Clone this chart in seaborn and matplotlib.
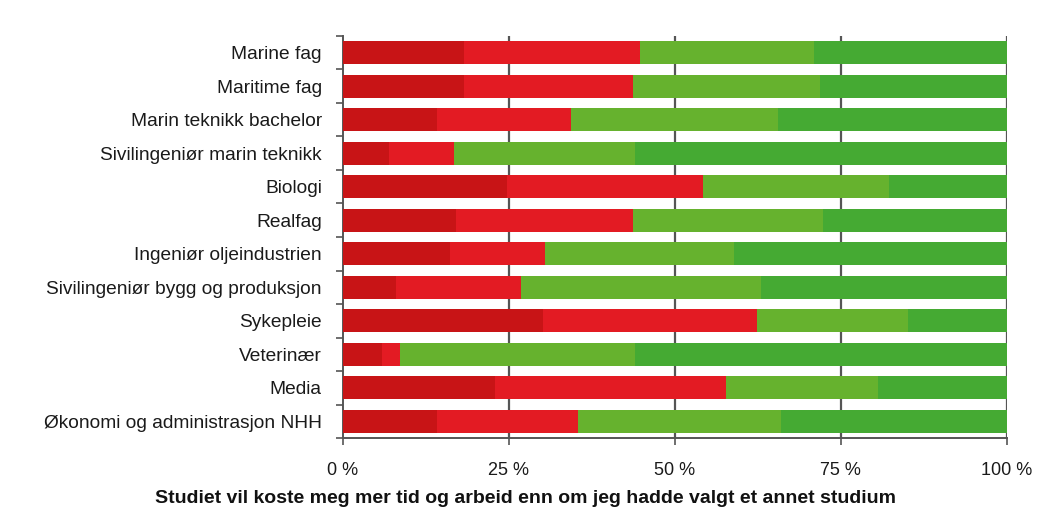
import pandas as pd
import matplotlib.pyplot as plt
import seaborn as sns

# Categories (top to bottom)
categories = ['Marine fag', 'Maritime fag', 'Marin teknikk bachelor',
              'Sivilingeniør marin teknikk', 'Biologi', 'Realfag',
              'Ingeniør oljeindustrien', 'Sivilingeniør bygg og produksjon',
              'Sykepleie', 'Veterinær', 'Media', 'Økonomi og administrasjon NHH']

# Share per answer group (percent)
helt_enig = [18.2, 18.2, 14.2, 7.0, 24.8, 17.1, 16.1, 8.1, 30.2, 5.9, 23.0, 14.2]
delvis_enig = [26.5, 25.5, 20.2, 9.8, 29.5, 26.6, 14.3, 18.7, 32.2, 2.7, 34.7, 21.2]
delvis_uenig = [26.3, 28.1, 31.2, 27.2, 28.0, 28.6, 28.5, 36.2, 22.7, 35.4, 22.9, 30.6]
helt_uenig = [29.0, 28.2, 34.4, 56.0, 17.7, 27.7, 41.1, 37.0, 14.9, 56.0, 19.4, 34.0]

colors = ['#C81416', '#E31B23', '#66B22E', '#45AA33']

df = pd.DataFrame({'kategori': categories, 'a': helt_enig, 'b': delvis_enig,
                   'c': delvis_uenig, 'd': helt_uenig})
# Cumulative ends for the stacked bars
df['s1'] = df['a']
df['s2'] = df['s1'] + df['b']
df['s3'] = df['s2'] + df['c']
df['s4'] = df['s3'] + df['d']

sns.set_style('white')
plt.rcParams['font.family'] = ['Liberation Sans', 'DejaVu Sans']

fig = plt.figure(figsize=(10.51, 5.13), dpi=100)
ax = fig.add_axes([0.326, 0.146, 0.632, 0.784])

# Draw from the longest cumulative bar to the shortest
for col, c in zip(['s4', 's3', 's2', 's1'], colors[::-1]):
    sns.barplot(data=df, x=col, y='kategori', order=categories, orient='h',
                color=c, width=0.68, saturation=1, linewidth=0, ax=ax, zorder=3)

ax.set_xlim(0, 100)
ax.set_ylim(len(categories) - 0.5, -0.5)
ax.set_xticks([0, 25, 50, 75, 100])
ax.set_xticklabels(['0 %', '25 %', '50 %', '75 %', '100 %'], fontsize=13, color='#1a1a1a')
ax.tick_params(axis='x', bottom=True, direction='out', length=5, width=1.2,
               color='#555555', pad=12)
ax.tick_params(axis='y', which='major', left=True, length=0, labelsize=13.8, pad=15,
               labelcolor='#1a1a1a')
ax.set_yticks([i + 0.5 for i in range(-1, len(categories))], minor=True)
ax.tick_params(axis='y', which='minor', left=True, direction='out', length=5, width=1.2,
               color='#555555')

for v in [25, 50, 75, 100]:
    ax.axvline(v, color='#555555', lw=1.6, zorder=1)

sns.despine(ax=ax, top=True, right=True)
for s in ['left', 'bottom']:
    ax.spines[s].set_color('#555555')
    ax.spines[s].set_linewidth(1.4)

ax.set_ylabel('')
ax.set_xlabel('Studiet vil koste meg mer tid og arbeid enn om jeg hadde valgt et annet studium',
              fontsize=14, fontweight='bold', color='#111111')
ax.xaxis.set_label_coords(0.276, -0.128)

plt.savefig('out.png', dpi=100)
